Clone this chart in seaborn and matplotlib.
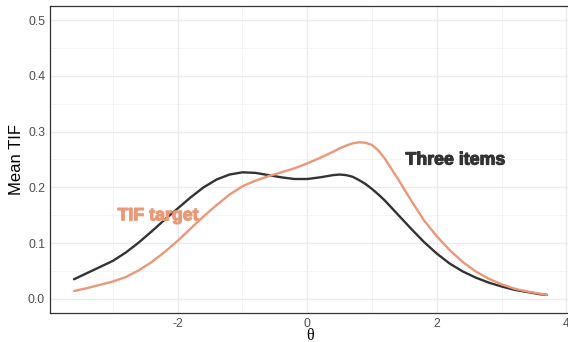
import numpy as np
import pandas as pd
import matplotlib
matplotlib.use("Agg")
import matplotlib.pyplot as plt
import matplotlib.patheffects as pe
import seaborn as sns

theta = [-3.6, -3.4, -3.2, -3.0, -2.8, -2.6, -2.4, -2.2, -2.0, -1.8, -1.6,
         -1.4, -1.2, -1.0, -0.8, -0.6, -0.4, -0.2, 0.0, 0.2, 0.4, 0.5, 0.6,
         0.7, 0.8, 0.9, 1.0, 1.1, 1.2, 1.4, 1.6, 1.8, 2.0, 2.2, 2.4, 2.6, 2.8,
         3.0, 3.2, 3.4, 3.6, 3.7]
three_items = [0.035, 0.046, 0.057, 0.068, 0.083, 0.101, 0.121, 0.142, 0.162,
               0.182, 0.200, 0.214, 0.223, 0.227, 0.226, 0.222, 0.218, 0.215,
               0.215, 0.218, 0.222, 0.223, 0.222, 0.219, 0.213, 0.206, 0.197,
               0.187, 0.176, 0.151, 0.126, 0.102, 0.081, 0.063, 0.049, 0.038,
               0.029, 0.022, 0.016, 0.012, 0.008, 0.007]
tif_target = [0.014, 0.019, 0.025, 0.031, 0.039, 0.051, 0.066, 0.084, 0.104,
              0.126, 0.148, 0.168, 0.187, 0.202, 0.212, 0.220, 0.227, 0.234,
              0.243, 0.253, 0.264, 0.270, 0.275, 0.279, 0.281, 0.280, 0.276,
              0.266, 0.251, 0.215, 0.177, 0.141, 0.112, 0.087, 0.066, 0.049,
              0.036, 0.026, 0.018, 0.013, 0.009, 0.007]
series_names = ["Three items", "TIF target"]
series_colors = ["#333333", "#EB9878"]
y_ticks = [0.0, 0.1, 0.2, 0.3, 0.4, 0.5]
x_ticks = [-2, 0, 2, 4]

df = pd.DataFrame({
    "theta": theta * 2,
    "tif": three_items + tif_target,
    "series": [series_names[0]] * len(theta) + [series_names[1]] * len(theta),
})

sns.set_theme(style="white")
plt.rcParams["font.family"] = ["Liberation Sans", "DejaVu Sans"]
plt.rcParams["lines.solid_joinstyle"] = "round"

fig = plt.figure(figsize=(5.68, 3.42), dpi=100)
ax = fig.add_axes([50.3 / 568, (342 - 312.7) / 342, 520.4 / 568, 306.4 / 342])

# grid
for v in [-3, -1, 1, 3]:
    ax.axvline(v, color="#F2F2F2", lw=0.6, zorder=0)
for v in [0.05, 0.15, 0.25, 0.35, 0.45]:
    ax.axhline(v, color="#F2F2F2", lw=0.6, zorder=0)
for v in [-2, 0, 2, 4]:
    ax.axvline(v, color="#EBEBEB", lw=1.0, zorder=0)
for v in y_ticks:
    ax.axhline(v, color="#EBEBEB", lw=1.0, zorder=0)

sns.lineplot(data=df, x="theta", y="tif", hue="series",
             palette=dict(zip(series_names, series_colors)),
             linewidth=1.7, ax=ax, legend=False, sort=True)

ax.set_xlim(-3.965, 4.065)
ax.set_ylim(-0.025, 0.525)
ax.set_xticks(x_ticks)
ax.set_xticklabels(["-2", "0", "2", "4"])
ax.set_yticks(y_ticks)
ax.set_yticklabels([f"{v:.1f}" for v in y_ticks])
ax.tick_params(axis="both", labelsize=8.8, colors="#333333", labelcolor="#4D4D4D",
               length=3, width=0.6, pad=0.8)

for s in ax.spines.values():
    s.set_color("#333333")
    s.set_linewidth(0.9)

ax.set_ylabel("Mean TIF", fontsize=12, color="black", labelpad=3)
ax.set_xlabel("θ", fontsize=11.5, color="black", family=["Liberation Serif", "DejaVu Serif"])
ax.xaxis.set_label_coords((310 - 50.3) / 520.4, (312.7 - 335.5) / 306.4)
ax.xaxis.label.set_va("center")

ax.text(2.29, 0.249, series_names[0], color=series_colors[0], fontsize=12.8,
        fontweight="bold", ha="center", va="center",
        path_effects=[pe.withStroke(linewidth=0.8, foreground=series_colors[0])])
ax.text(-2.3, 0.149, series_names[1], color=series_colors[1], fontsize=12.8,
        fontweight="bold", ha="center", va="center",
        path_effects=[pe.withStroke(linewidth=0.8, foreground=series_colors[1])])

fig.savefig("out.png", dpi=100)
